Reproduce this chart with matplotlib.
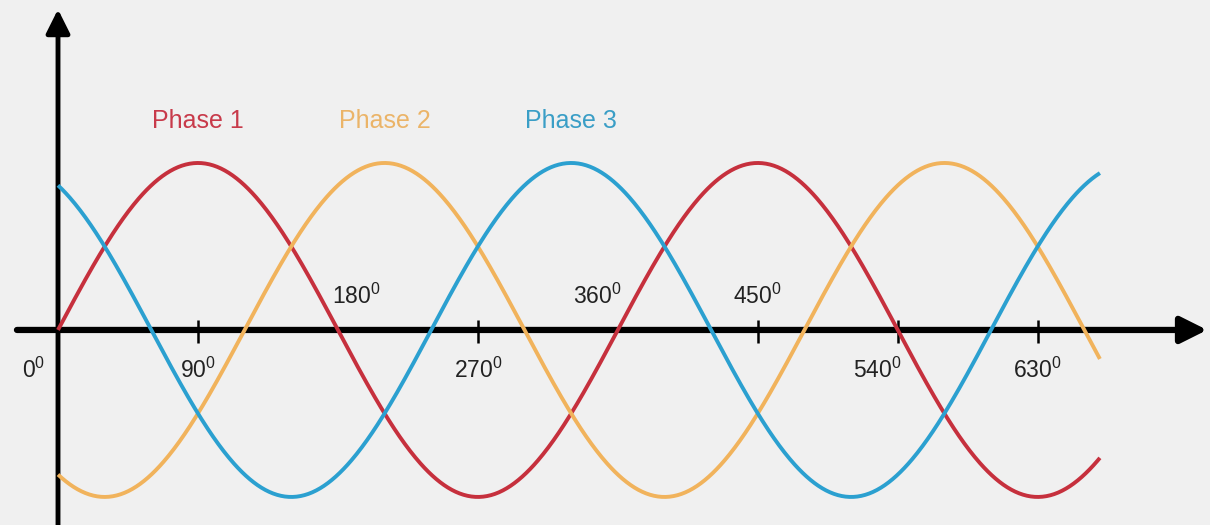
import numpy as np
import matplotlib
matplotlib.use("Agg")
import matplotlib.pyplot as plt

# three phase waves, values in degrees
phase_names = ["Phase 1", "Phase 2", "Phase 3"]
phase_shift = [0, 120, 240]
phase_colors = ["#c6303d", "#f1b35c", "#2ba0d0"]
label_colors = ["#c83a4a", "#ebb468", "#3a9ec6"]
angle_end = 670

tick_deg = [0, 90, 180, 270, 360, 450, 540, 630]
tick_above = [False, False, True, False, True, True, False, False]
tick_marks = [90, 270, 450, 540, 630]
# small nudges so labels sit clear of the curves (layout only)
label_dx = [-16, 0, 12, 0, -13, 0, -13, 0]

plt.rcParams["font.family"] = ["Liberation Sans", "DejaVu Sans"]
plt.rcParams["mathtext.fontset"] = "custom"
plt.rcParams["mathtext.rm"] = "Liberation Sans"

bg = "#f0f0f0"
fig = plt.figure(figsize=(12.1, 5.25), dpi=100, facecolor=bg)
ax = fig.add_axes([0, 0, 1, 1])
ax.set_facecolor(bg)
ax.set_xlim(-37.3, 740.8)
ax.set_ylim(-1.168, 1.976)
ax.axis("off")

# axes with arrows
ax.annotate("", xy=(739, 0), xytext=(-26.4, 0),
            arrowprops=dict(arrowstyle="-|>", lw=4.5, color="black",
                            mutation_scale=40, shrinkA=0, shrinkB=0))
ax.annotate("", xy=(0, 1.92), xytext=(0, -1.2),
            arrowprops=dict(arrowstyle="-|>", lw=3.5, color="black",
                            mutation_scale=36, shrinkA=0, shrinkB=0))

ax.vlines(tick_marks, -0.08, 0.06, color="black", lw=1.8, zorder=2)

theta = np.linspace(0, angle_end, 800)
for name, sh, c, lc in zip(phase_names, phase_shift, phase_colors, label_colors):
    ax.plot(theta, np.sin(np.radians(theta - sh)), color=c, lw=2.8, zorder=3,
            solid_capstyle="butt")
    ax.text(90 + sh, 1.25, name, color=lc, fontsize=18,
            ha="center", va="center")

for d, up, dx in zip(tick_deg, tick_above, label_dx):
    ax.text(d + dx, 0.2 if up else -0.24, str(d) + r"$^{\rm 0}$",
            fontsize=16.5, color="#222222", ha="center", va="center")

fig.savefig("out.png", dpi=100, facecolor=bg)
